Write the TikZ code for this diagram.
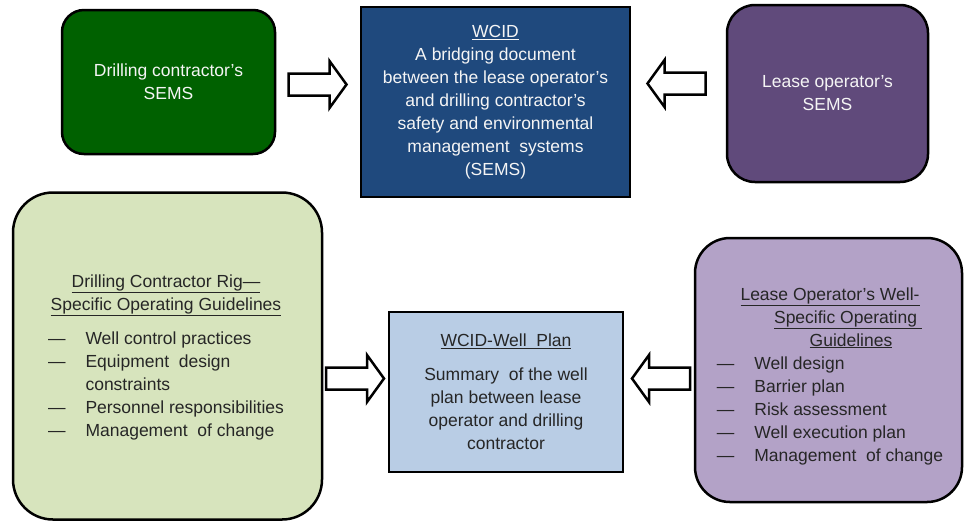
\documentclass[tikz,border=0pt]{standalone}
\usepackage{fontspec}
\setmainfont{Liberation Sans}
\usetikzlibrary{shapes,arrows,positioning}
\definecolor{drillgreen}{HTML}{006100}
\definecolor{wcidblue}{HTML}{1F497D}
\definecolor{leasepurple}{HTML}{604A7B}
\definecolor{rigpale}{HTML}{D7E4BD}
\definecolor{planblue}{HTML}{B9CDE5}
\definecolor{welllilac}{HTML}{B3A2C7}
\definecolor{bodytext}{HTML}{262626}

\begin{document}
\begin{tikzpicture}[x=1pt,y=-1pt,
  box/.style={draw,line width=2.5pt,outer sep=0pt,inner sep=0pt,align=center,
    font=\fontsize{17.5}{23}\selectfont},
  light/.style={text=white!92!gray},
  dark/.style={text=bodytext},
  hollow/.style={draw,line width=2.5pt,fill=white,line join=miter},
  rarrow/.pic={\draw[hollow](-29,-11)--(12,-11)--(12,-23.5)--(29,0)--(12,23.5)--(12,11)--(-29,11)--cycle;}]
\useasboundingbox (0,0) rectangle (965,523);
% top row
\node[box,light,fill=drillgreen,rounded corners=22pt,minimum width=213,minimum height=144](dcsems) at (168.5,82){Drilling contractor's\\SEMS};
\node[box,light,fill=wcidblue,minimum width=269,minimum height=190](wcid) at (495.5,102){\underline{WCID}\\A bridging document\\between the lease operator's\\and drilling contractor's\\safety and environmental\\management\ \ systems\\(SEMS)};
\node[box,light,fill=leasepurple,rounded corners=28pt,minimum width=201,minimum height=177](losems) at (827.5,93.5){Lease operator's\\SEMS};
% bottom row
\node[box,fill=rigpale,rounded corners=40pt,minimum width=309,minimum height=327](rigsog) at (167.5,356){};
\node[box,dark,draw=none](rigtext) at (166,359){\underline{Drilling Contractor Rig—}\\\underline{Specific Operating Guidelines}\\[12pt]
  \begin{tabular}{@{}l@{\hspace{20pt}}l@{}}
  — & Well control practices\\
  — & Equipment\ \ design\\
    & constraints\\
  — & Personnel responsibilities\\
  — & Management\ \ of change
  \end{tabular}};
\node[box,dark,fill=planblue,minimum width=234,minimum height=160](wellplan) at (506,392){\underline{WCID-Well\ \ Plan}\\[11pt]Summary\ \ of the well\\plan between lease\\operator and drilling\\contractor};
\node[box,fill=welllilac,rounded corners=35pt,minimum width=267,minimum height=264](wellsog) at (828.5,370){};
\node[box,dark,draw=none](welltext) at (830,376){%
  \begin{tabular}{@{}l@{\hspace{20pt}}l@{}}
  \multicolumn{2}{@{}c@{}}{\underline{Lease Operator's Well-}}\\
  \multicolumn{2}{@{}c@{}}{\hspace{36pt}\underline{Specific Operating\ }}\\
  \multicolumn{2}{@{}c@{}}{\hspace{42pt}\underline{Guidelines}}\\
  — & Well design\\
  — & Barrier plan\\
  — & Risk assessment\\
  — & Well execution plan\\
  — & Management\ \ of change
  \end{tabular}};
% block arrows
\pic at (317.5,84.5){rarrow};
\pic[xscale=-1] at (676.5,83.5){rarrow};
\pic at (355,378.5){rarrow};
\pic[xscale=-1] at (661,378.5){rarrow};
\end{tikzpicture}
\end{document}
